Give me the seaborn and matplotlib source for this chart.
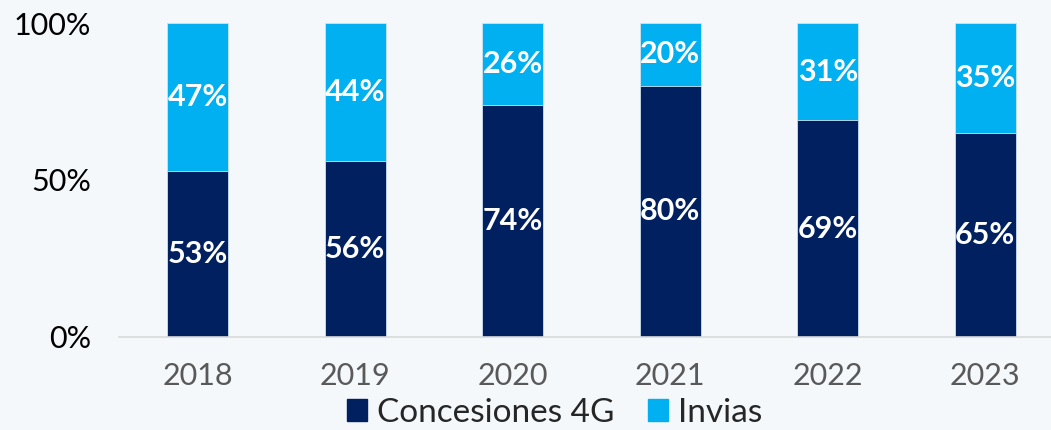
import pandas as pd
import matplotlib.pyplot as plt
import seaborn as sns
from matplotlib.patches import Patch

# data
years = ["2018", "2019", "2020", "2021", "2022", "2023"]
concesiones = [53, 56, 74, 80, 69, 65]
invias = [47, 44, 26, 20, 31, 35]

navy = "#002060"
light = "#00B0F0"

df = pd.DataFrame({"year": years, "Concesiones 4G": concesiones, "Invias": invias})
df["total"] = df["Concesiones 4G"] + df["Invias"]

sns.set_theme(style="white")
plt.rcParams["font.family"] = ["Lato", "DejaVu Sans"]

fig = plt.figure(figsize=(10.51, 4.30), dpi=100)
fig.patch.set_facecolor("#f4f8fb")
ax = fig.add_axes([119 / 1051, 0.2163, 945 / 1051, 0.7302])
ax.set_facecolor("none")

# stacked: total in light blue, Concesiones on top in navy
sns.barplot(data=df, x="year", y="total", color=light, saturation=1, width=0.39,
            edgecolor="#cfe3f0", linewidth=0.6, ax=ax)
sns.barplot(data=df, x="year", y="Concesiones 4G", color=navy, saturation=1, width=0.39,
            edgecolor="#cfe3f0", linewidth=0.6, ax=ax)

# labels in the middle of each segment
for i, (c, v) in enumerate(zip(concesiones, invias)):
    ax.text(i, c / 2, f"{c}%", ha="center", va="center", color="white",
            fontsize=22, fontweight="bold")
    ax.text(i, c + v / 2, f"{v}%", ha="center", va="center", color="white",
            fontsize=22, fontweight="bold")

ax.set_xlim(-0.5, 5.5)
ax.set_ylim(0, 100)
ax.set_yticks([0, 50, 100])
ax.set_yticklabels(["0%", "50%", "100%"])
ax.set_xlabel("")
ax.set_ylabel("")
ax.tick_params(axis="y", length=0, pad=20, labelsize=22, labelcolor="black")
ax.tick_params(axis="x", length=0, pad=18, labelsize=22, labelcolor="#595959")
for s in ["top", "right", "left"]:
    ax.spines[s].set_visible(False)
ax.spines["bottom"].set_color("#d9d9d9")
ax.spines["bottom"].set_linewidth(1.2)

handles = [Patch(color=navy, label="Concesiones 4G"), Patch(color=light, label="Invias")]
fig.legend(handles=handles, loc="center", bbox_to_anchor=(0.528, 0.04), ncol=2, frameon=False,
           fontsize=24, handlelength=0.6, handleheight=0.6, handletextpad=0.3, columnspacing=1.0,
           borderpad=0)

fig.savefig("out.png", dpi=100, facecolor=fig.get_facecolor())
